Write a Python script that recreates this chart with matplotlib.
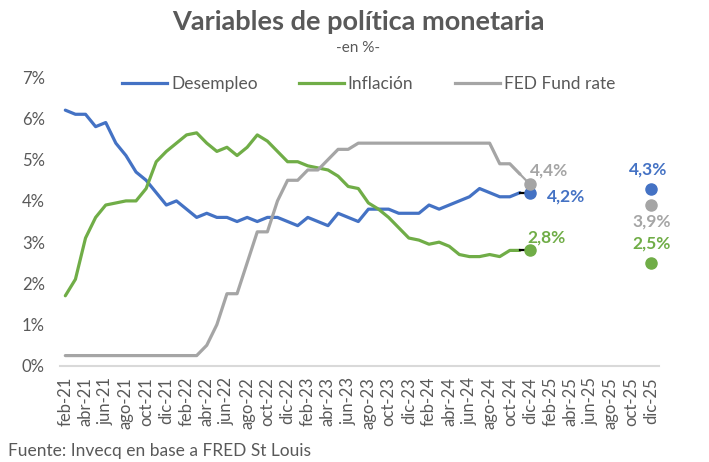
import matplotlib
matplotlib.use("Agg")
import matplotlib.pyplot as plt
from matplotlib.lines import Line2D
from matplotlib.ticker import FuncFormatter

plt.rcParams["font.family"] = ["Lato", "DejaVu Sans"]

meses = ["ene", "feb", "mar", "abr", "may", "jun", "jul", "ago", "sep", "oct", "nov", "dic"]
fechas = [f"{meses[(m + 1) % 12]}-{21 + (m + 1) // 12}" for m in range(59)]

desempleo = [6.2, 6.1, 6.1, 5.8, 5.9, 5.4, 5.1, 4.7, 4.5, 4.2, 3.9, 4.0, 3.8, 3.6, 3.7,
             3.6, 3.6, 3.5, 3.6, 3.5, 3.6, 3.6, 3.5, 3.4, 3.6, 3.5, 3.4, 3.7, 3.6, 3.5,
             3.8, 3.8, 3.8, 3.7, 3.7, 3.7, 3.9, 3.8, 3.9, 4.0, 4.1, 4.3, 4.2, 4.1, 4.1,
             4.2, 4.2]
inflacion = [1.7, 2.1, 3.1, 3.6, 3.9, 3.95, 4.0, 4.0, 4.3, 4.95, 5.2, 5.4, 5.6, 5.65, 5.4,
             5.2, 5.3, 5.1, 5.3, 5.6, 5.45, 5.2, 4.95, 4.95, 4.85, 4.8, 4.75, 4.6, 4.35, 4.3,
             3.95, 3.8, 3.6, 3.35, 3.1, 3.05, 2.95, 3.0, 2.9, 2.7, 2.65, 2.65, 2.7, 2.65, 2.8,
             2.8, 2.8]
fed = [0.25] * 14 + [0.5, 1.0, 1.75, 1.75, 2.5, 3.25, 3.25, 4.0, 4.5, 4.5, 4.75, 4.75,
                     5.0, 5.25, 5.25] + [5.4] * 14 + [4.9, 4.9, 4.65, 4.4]
proyeccion_dic25 = {"Desempleo": 4.3, "Inflación": 2.5, "FED Fund rate": 3.9}

azul, verde, gris = "#4472C4", "#70AD47", "#A5A5A5"
texto = "#595959"

fig = plt.figure(figsize=(7.09, 4.62), dpi=100, facecolor="white")
ax = fig.add_axes([0.085, 0.208, 0.845, 0.625])

x = list(range(len(desempleo)))
ultimo = x[-1]
fin = len(fechas) - 1
series = [("Desempleo", desempleo, azul), ("Inflación", inflacion, verde),
          ("FED Fund rate", fed, gris)]
for nombre, valores, color in series:
    ax.plot(x[:-1], valores[:-1], color=color, lw=2.3, solid_capstyle="round",
            solid_joinstyle="round")
    seg_color = "black" if nombre != "FED Fund rate" else color
    ax.plot(x[-2:], valores[-2:], color=seg_color, lw=1.6)
    ax.plot(ultimo, valores[-1], "o", color=color, ms=8, zorder=5)
    ax.plot(fin, proyeccion_dic25[nombre], "o", color=color, ms=8, zorder=5)


def etiqueta(v):
    return f"{v:.1f}".replace(".", ",") + "%"


# etiquetas dic-24
ax.annotate(etiqueta(desempleo[-1]), (ultimo, desempleo[-1]), xytext=(12, -3),
            textcoords="offset points", color=azul, fontsize=12.5, fontweight="bold",
            ha="left", va="center")
ax.annotate(etiqueta(fed[-1]), (ultimo, fed[-1]), xytext=(0, 10),
            textcoords="offset points", color=gris, fontsize=12.5, fontweight="bold",
            ha="left", va="center")
ax.annotate(etiqueta(inflacion[-1]), (ultimo, inflacion[-1]), xytext=(-2, 9),
            textcoords="offset points", color=verde, fontsize=12.5, fontweight="bold",
            ha="left", va="center")
# etiquetas dic-25
ax.annotate(etiqueta(proyeccion_dic25["Desempleo"]), (fin, proyeccion_dic25["Desempleo"]),
            xytext=(-2, 14), textcoords="offset points", color=azul, fontsize=12.5,
            fontweight="bold", ha="center", va="center")
ax.annotate(etiqueta(proyeccion_dic25["FED Fund rate"]), (fin, proyeccion_dic25["FED Fund rate"]),
            xytext=(0, -12), textcoords="offset points", color=gris, fontsize=12.5,
            fontweight="bold", ha="center", va="center")
ax.annotate(etiqueta(proyeccion_dic25["Inflación"]), (fin, proyeccion_dic25["Inflación"]),
            xytext=(0, 14), textcoords="offset points", color=verde, fontsize=12.5,
            fontweight="bold", ha="center", va="center")

ax.set_xlim(-0.5, 58.8)
ax.set_ylim(0, 7)
ax.set_yticks(range(0, 8))
ax.yaxis.set_major_formatter(FuncFormatter(lambda v, _: f"{v:.0f}%"))
ax.set_xticks(range(0, len(fechas), 2))
ax.set_xticklabels(fechas[::2], rotation=90)
ax.tick_params(axis="both", length=0, colors=texto, labelsize=12)
ax.tick_params(axis="x", pad=8)
ax.tick_params(axis="y", pad=11)
for lado in ["top", "right", "left"]:
    ax.spines[lado].set_visible(False)
ax.spines["bottom"].set_color("#D9D9D9")
ax.spines["bottom"].set_linewidth(1.5)

handles = [Line2D([], [], color=c, lw=2.3) for _, _, c in series]
fig.legend(handles, [n for n, _, _ in series], loc="center", ncol=3,
           bbox_to_anchor=(0.52, 0.818), frameon=False, fontsize=12.5,
           handlelength=2.6, handletextpad=0.2, columnspacing=2.4,
           labelcolor=texto)

fig.text(0.505, 0.952, "Variables de política monetaria", ha="center", va="center",
         fontsize=19.5, fontweight="bold", color=texto)
fig.text(0.505, 0.897, "-en %-", ha="center", va="center", fontsize=11, color=texto)
fig.text(0.011, 0.024, "Fuente: Invecq en base a FRED St Louis", ha="left", va="center",
         fontsize=12.5, color=texto)

fig.savefig("out.png", dpi=100, facecolor="white")
